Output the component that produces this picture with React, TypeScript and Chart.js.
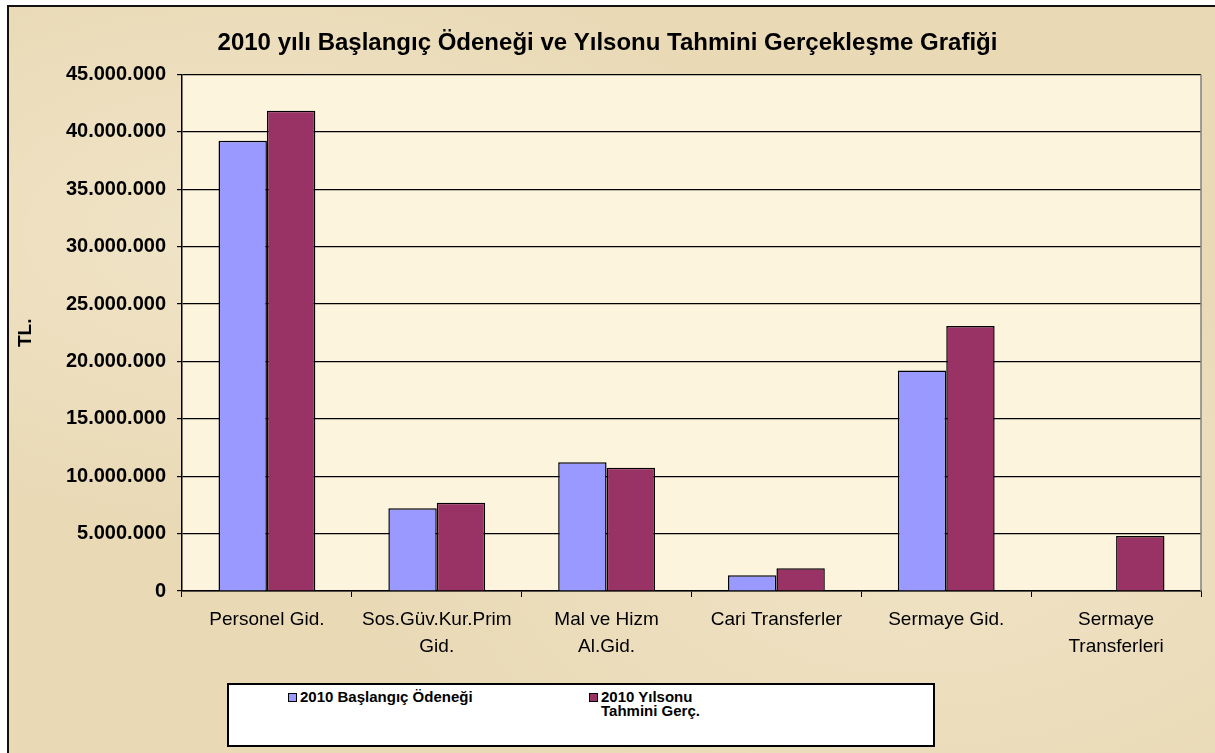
import React, { useEffect, useRef } from "react";
import { Chart, registerables } from "chart.js";

Chart.register(...registerables);

const titleText = "2010 yılı Başlangıç Ödeneği ve Yılsonu Tahmini Gerçekleşme Grafiği";
const yAxisTitle = "TL.";
const categories: string[][] = [
  ["Personel Gid."],
  ["Sos.Güv.Kur.Prim", "Gid."],
  ["Mal ve Hizm", "Al.Gid."],
  ["Cari Transferler"],
  ["Sermaye Gid."],
  ["Sermaye", "Transferleri"],
];
const seriesLabels = ["2010 Başlangıç Ödeneği", "2010 Yılsonu Tahmini Gerç."];
const baslangic = [39220000, 7200000, 11210000, 1370000, 19220000, 0];
const yilsonu = [41840000, 7690000, 10740000, 1980000, 23080000, 4790000];
const seriesColors = ["#9999FF", "#993366"];
const yMin = 0;
const yMax = 45000000;
const yStep = 5000000;

const FONT = "'Liberation Sans', Arial, sans-serif";

function fmt(v: number): string {
  return String(Math.round(v)).replace(/\B(?=(\d{3})+(?!\d))/g, ".");
}

const areaPlugin = {
  id: "areaPlugin",
  beforeDraw(chart: any) {
    const { ctx, chartArea } = chart;
    ctx.save();
    ctx.fillStyle = "#FDF4DE";
    ctx.fillRect(chartArea.left, chartArea.top, chartArea.right - chartArea.left, chartArea.bottom - chartArea.top);
    ctx.restore();
  },
  afterDraw(chart: any) {
    const { ctx, chartArea } = chart;
    ctx.save();
    ctx.strokeStyle = "#808080";
    ctx.lineWidth = 1.5;
    ctx.beginPath();
    ctx.moveTo(chartArea.right, chartArea.top);
    ctx.lineTo(chartArea.right, chartArea.bottom);
    ctx.stroke();
    ctx.restore();
  },
};

export default function App() {
  const ref = useRef<HTMLCanvasElement | null>(null);

  useEffect(() => {
    document.body.style.margin = "0";
    if (!ref.current) return;
    const chart = new Chart(ref.current, {
      type: "bar",
      data: {
        labels: categories,
        datasets: [
          {
            label: seriesLabels[0],
            data: baslangic,
            backgroundColor: seriesColors[0],
            borderColor: "#000000",
            borderWidth: 1.5,
          },
          {
            label: seriesLabels[1],
            data: yilsonu,
            backgroundColor: seriesColors[1],
            borderColor: "#000000",
            borderWidth: 1.5,
          },
        ],
      },
      options: {
        animation: false,
        responsive: false,
        layout: { padding: { left: 14, right: 14, top: 20, bottom: 82 } },
        datasets: { bar: { barPercentage: 1, categoryPercentage: 0.57 } },
        plugins: {
          legend: { display: false },
          tooltip: { enabled: false },
          title: {
            display: true,
            text: titleText,
            color: "#000000",
            font: { family: FONT, size: 24, weight: "bold" },
            padding: { top: 8.6, bottom: 17.1 },
          },
        },
        scales: {
          x: {
            grid: {
              offset: true,
              drawOnChartArea: false,
              drawTicks: true,
              tickLength: 6,
              color: "#000000",
            },
            border: { display: true, color: "#000000", width: 1.5 },
            ticks: {
              color: "#000000",
              font: { family: FONT, size: 19, lineHeight: 1.42 },
              padding: 9,
              maxRotation: 0,
              autoSkip: false,
            },
            afterFit(scale: any) {
              scale.height = 80;
            },
          },
          y: {
            min: yMin,
            max: yMax,
            grid: {
              color: "#000000",
              lineWidth: 1.2,
              drawTicks: true,
              tickLength: 5,
            },
            border: { display: true, color: "#000000", width: 1.5 },
            ticks: {
              stepSize: yStep,
              color: "#000000",
              font: { family: FONT, size: 20, weight: "bold" },
              padding: 11,
              callback: (v: any) => fmt(Number(v)),
            },
            title: {
              display: true,
              text: yAxisTitle,
              color: "#000000",
              font: { family: FONT, size: 19, weight: "bold" },
              padding: 0,
            },
            afterFit(scale: any) {
              scale.width = 168;
            },
          },
        },
      },
      plugins: [areaPlugin],
    } as any);
    return () => chart.destroy();
  }, []);

  const legendItems = [
    { label: seriesLabels[0], color: seriesColors[0], left: 59 },
    { label: seriesLabels[1], color: seriesColors[1], left: 360 },
  ];

  return (
    <div style={{ position: "relative", width: 1215, height: 753, overflow: "hidden" }}>
      <div
        style={{
          position: "absolute",
          left: 7,
          top: 5,
          width: 1215,
          height: 760,
          border: "2px solid #111",
          background:
            "radial-gradient(ellipse at 20% 30%, rgba(255,250,235,0.35), rgba(255,250,235,0) 40%), radial-gradient(ellipse at 75% 70%, rgba(255,250,235,0.3), rgba(255,250,235,0) 45%), #E9D9B5",
          boxSizing: "border-box",
        }}
      />
      <canvas
        ref={ref}
        width={1215}
        height={753}
        style={{ position: "absolute", left: 0, top: 0, display: "block" }}
      />
      <div
        style={{
          position: "absolute",
          left: 227,
          top: 683,
          width: 708,
          height: 64,
          boxSizing: "border-box",
          border: "2px solid #000",
          background: "#FFFFFF",
          fontFamily: FONT,
          fontWeight: "bold",
          fontSize: 15,
          color: "#000",
        }}
      >
        {legendItems.map((it, i) => (
          <div
            key={i}
            style={{
              position: "absolute",
              left: it.left,
              top: 5,
              display: "flex",
              alignItems: "flex-start",
            }}
          >
            <div
              style={{
                width: 9,
                height: 9,
                marginTop: 3,
                marginRight: 3,
                background: it.color,
                border: "1px solid #000",
                boxSizing: "border-box",
              }}
            />
            <div style={{ width: i === 0 ? 200 : 110, lineHeight: "14px" }}>{it.label}</div>
          </div>
        ))}
      </div>
    </div>
  );
}
